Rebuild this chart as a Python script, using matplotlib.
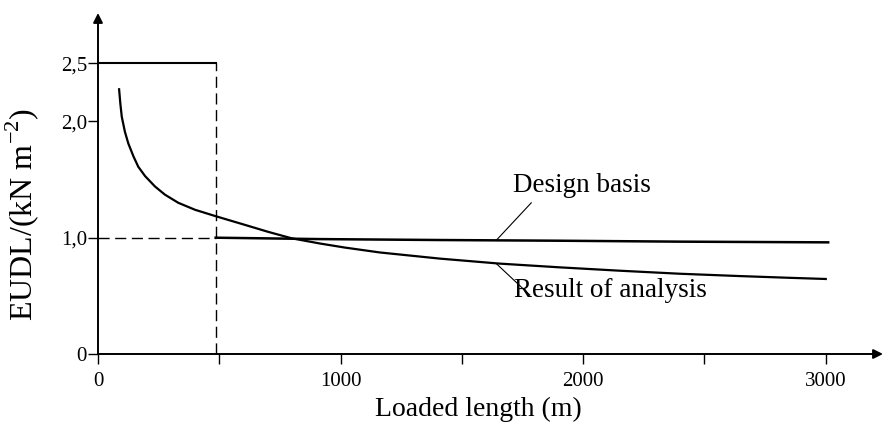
import matplotlib
matplotlib.use("Agg")
import matplotlib.pyplot as plt

plt.rcParams['font.family'] = ['Liberation Serif', 'DejaVu Serif']
plt.rcParams['mathtext.fontset'] = 'custom'
plt.rcParams['mathtext.rm'] = 'Liberation Serif'

# Result of analysis curve
result_length = [87, 92, 98, 111, 125, 146, 166, 194, 235, 276, 331, 400, 485, 606,
                 702, 798, 915, 1018, 1162, 1410, 1657, 1904, 2152, 2399, 2646, 2852, 3000]
result_eudl = [2.276, 2.155, 2.04, 1.91, 1.81, 1.70, 1.61, 1.53, 1.44, 1.37, 1.30, 1.24,
               1.185, 1.11, 1.05, 0.995, 0.95, 0.915, 0.873, 0.82, 0.777, 0.745, 0.716,
               0.69, 0.67, 0.655, 0.645]

# Design basis curve
design_top_length = [0, 485]
design_top_eudl = [2.5, 2.5]
design_length = [485, 915, 1410, 1904, 2399, 3010]
design_eudl = [1.0, 0.988, 0.98, 0.974, 0.966, 0.96]
step_length = 485

xticks = [0, 500, 1000, 1500, 2000, 2500, 3000]
xticklabels = ['0', '', '1000', '', '2000', '', '3000']
yticks = [0, 1.0, 2.0, 2.5]
yticklabels = ['0', '1,0', '2,0', '2,5']

fig = plt.figure(figsize=(8.83, 4.34), dpi=100)
ax = fig.add_axes([98 / 883, 80 / 434, 785 / 883, 341 / 434])
ax.set_xlim(0, 3236)
ax.set_ylim(0, 2.932)

for s in ax.spines.values():
    s.set_visible(False)

# axes with arrows
ax.annotate('', xy=(1, 0), xytext=(0, 0), xycoords='axes fraction',
            arrowprops=dict(arrowstyle='-|>', lw=1.4, color='black',
                            mutation_scale=14, shrinkA=0, shrinkB=0))
ax.annotate('', xy=(0, 1), xytext=(0, 0), xycoords='axes fraction',
            arrowprops=dict(arrowstyle='-|>', lw=1.4, color='black',
                            mutation_scale=14, shrinkA=0, shrinkB=0))

# design basis
ax.plot(design_top_length, design_top_eudl, color='black', lw=1.5)
ax.plot([step_length, step_length], [0, 2.5], color='black', lw=1.0,
        dashes=(8, 4))
ax.plot([0, step_length], [1.0, 1.0], color='black', lw=1.0, dashes=(8, 4))
ax.plot(design_length, design_eudl, color='black', lw=1.8)

# result of analysis
ax.plot(result_length, result_eudl, color='black', lw=1.6)

# leaders and labels
ax.plot([1642, 1786], [0.978, 1.30], color='black', lw=0.8)
ax.plot([1642, 1780], [0.777, 0.507], color='black', lw=0.8)
ax.text(1711, 1.445, 'Design basis', fontsize=19.5, ha='left', va='center')
ax.text(1715, 0.542, 'Result of analysis', fontsize=19.5, ha='left', va='center')

ax.set_xticks(xticks)
ax.set_xticklabels(xticklabels, fontsize=15)
ax.set_yticks(yticks)
ax.set_yticklabels(yticklabels, fontsize=15)
ax.tick_params(axis='both', direction='out', length=7, width=1.0, color='black')
ax.tick_params(axis='x', pad=6)
ax.tick_params(axis='y', pad=1)

ax.set_xlabel('Loaded length (m)', fontsize=20)
ax.xaxis.set_label_coords(0.484, -0.125)
ax.set_ylabel(r'EUDL/(kN m$^{-2}$)', fontsize=23)
ax.yaxis.set_label_coords(-0.072, 0.408)

fig.savefig('out.png', dpi=100)
